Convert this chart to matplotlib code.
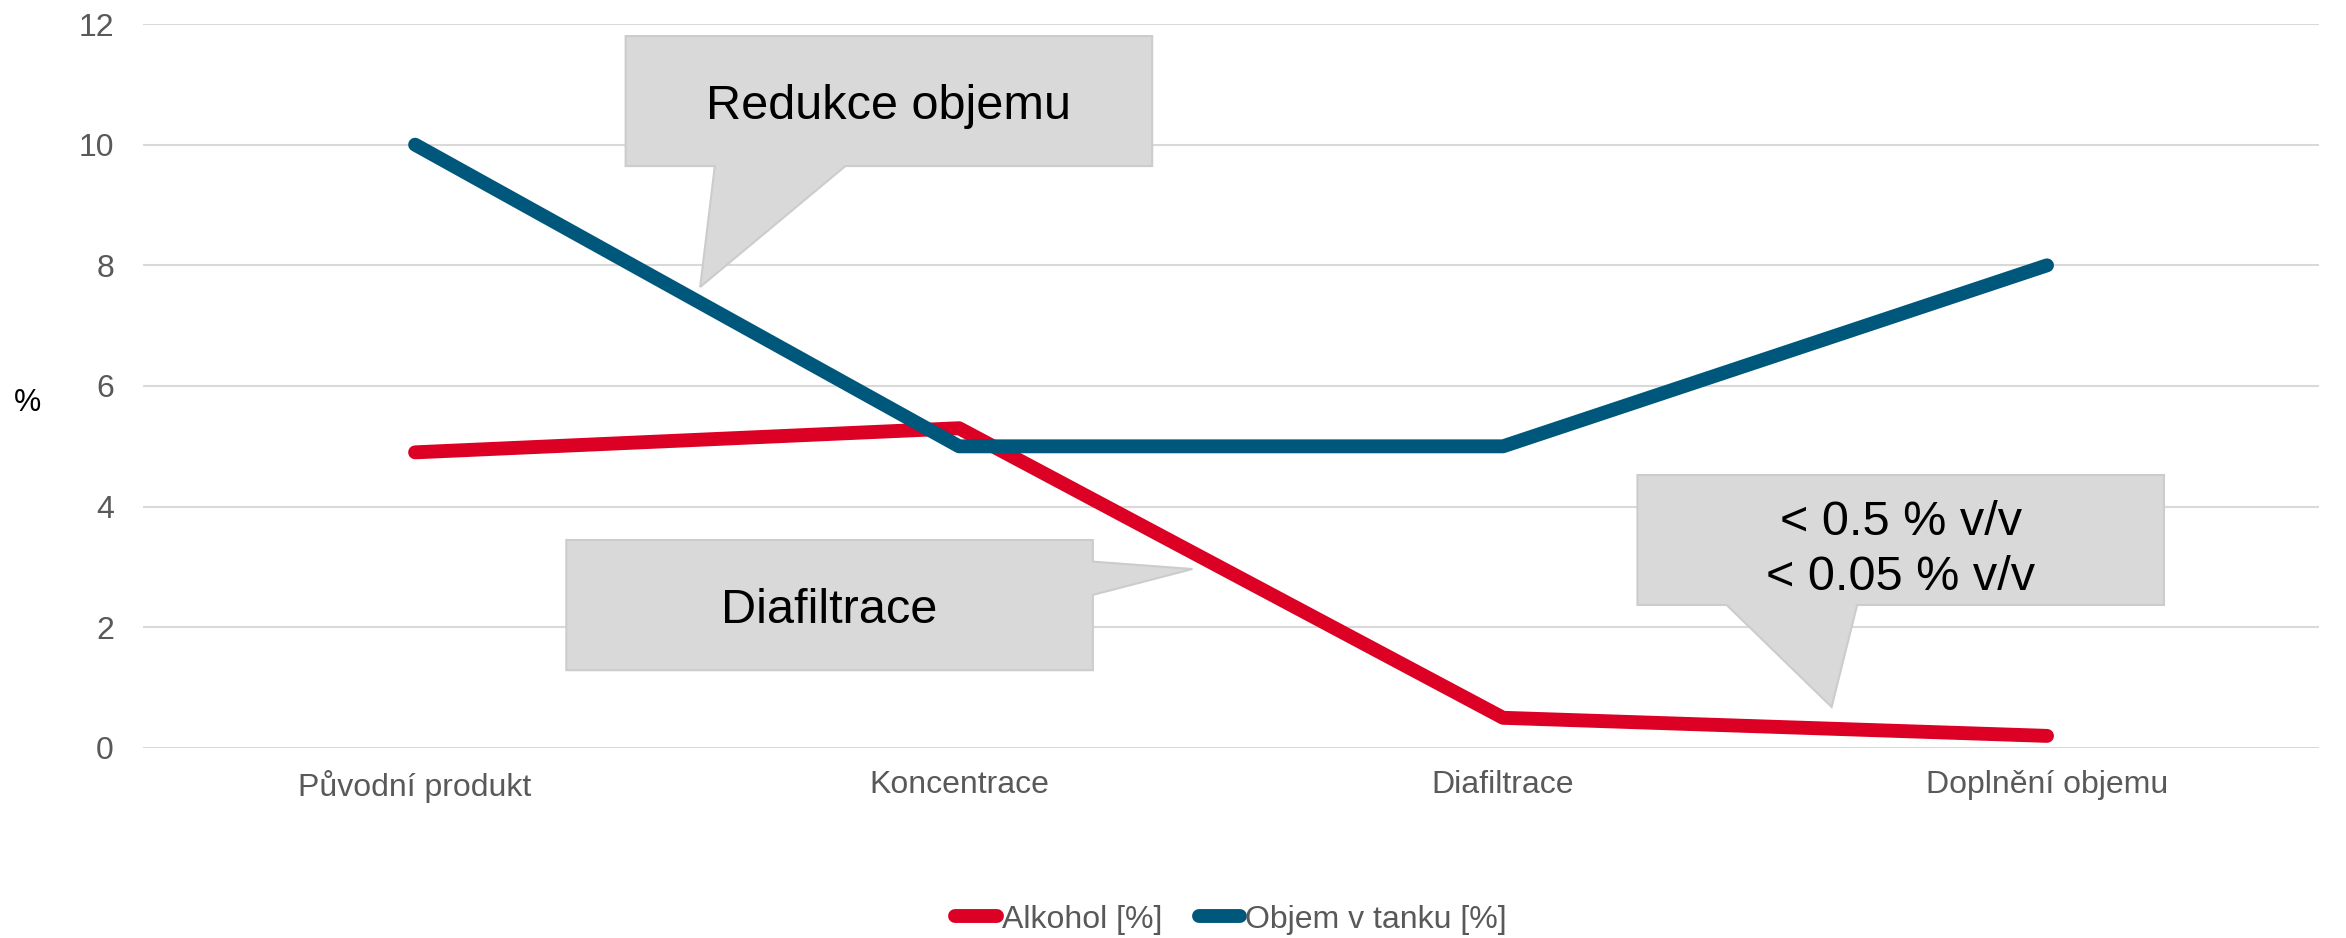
import matplotlib
matplotlib.use("Agg")
import matplotlib.pyplot as plt
from matplotlib.patches import Polygon

plt.rcParams["font.family"] = ["Liberation Sans", "DejaVu Sans"]

categories = ["Původní produkt", "Koncentrace", "Diafiltrace", "Doplnění objemu"]
alkohol = [4.9, 5.3, 0.5, 0.2]
objem = [10, 5, 5, 8]
y_ticks = [0, 2, 4, 6, 8, 10, 12]

RED = "#DC0025"
BLUE = "#00577C"
GREY_TXT = "#595959"
BOX_FILL = "#D9D9D9"
BOX_EDGE = "#CCCCCC"


def callout(ax, box, tail, tip, text, side="bottom"):
    # box = (x0, x1, ybot, ytop); tail = two points on the edge where the pointer starts
    x0, x1, yb, yt = box
    if side == "bottom":
        pts = [(x0, yt), (x1, yt), (x1, yb), (tail[1], yb), tip, (tail[0], yb), (x0, yb)]
    else:  # right
        pts = [(x0, yt), (x1, yt), (x1, tail[0]), tip, (x1, tail[1]), (x1, yb), (x0, yb)]
    ax.add_patch(Polygon(pts, closed=True, facecolor=BOX_FILL, edgecolor=BOX_EDGE,
                         linewidth=1.5, zorder=5))
    ax.text((x0 + x1) / 2, (yb + yt) / 2, text, ha="center", va="center_baseline",
            fontsize=35, color="black", zorder=6, linespacing=1.3)


def main():
    fig = plt.figure(figsize=(23.46, 9.38), dpi=100)
    ax = fig.add_axes([0.061, 0.2026, 0.9275, 0.7718])

    x = range(len(categories))
    ax.plot(x, alkohol, color=RED, lw=10, solid_capstyle="round", label="Alkohol [%]", zorder=3)
    ax.plot(x, objem, color=BLUE, lw=10, solid_capstyle="round", label="Objem v tanku [%]", zorder=3)

    ax.set_xlim(-0.5, 3.5)
    ax.set_ylim(0, 12)
    ax.set_yticks(y_ticks)
    ax.set_xticks(list(x))
    ax.set_xticklabels(categories)
    ax.tick_params(axis="both", length=0, labelsize=23, colors=GREY_TXT)
    ax.tick_params(axis="y", pad=21)
    ax.tick_params(axis="x", pad=16)
    ax.grid(axis="y", color="#D9D9D9", linewidth=1.5, zorder=0)
    ax.set_axisbelow(True)
    for s in ax.spines.values():
        s.set_visible(False)

    ax.set_ylabel("%", rotation=0, fontsize=22, color="black", va="center")
    ax.yaxis.set_label_coords(-0.0533, 0.477)

    callout(ax, (0.387, 1.355, 9.645, 11.80), (0.551, 0.791), (0.524, 7.64), "Redukce objemu")
    callout(ax, (0.278, 1.246, 1.289, 3.447), (3.089, 2.537), (1.429, 2.966), "Diafiltrace", side="right")
    callout(ax, (2.247, 3.215, 2.370, 4.525), (2.411, 2.651), (2.604, 0.679),
            "< 0.5 % v/v\n< 0.05 % v/v")

    leg = ax.legend(loc="center", bbox_to_anchor=(0.5, -0.237), ncol=2, frameon=False,
                    fontsize=23, handlelength=1.3, handletextpad=0.15, columnspacing=1.15)
    for t in leg.get_texts():
        t.set_color(GREY_TXT)

    fig.savefig("out.png", dpi=100)


if __name__ == "__main__":
    main()
